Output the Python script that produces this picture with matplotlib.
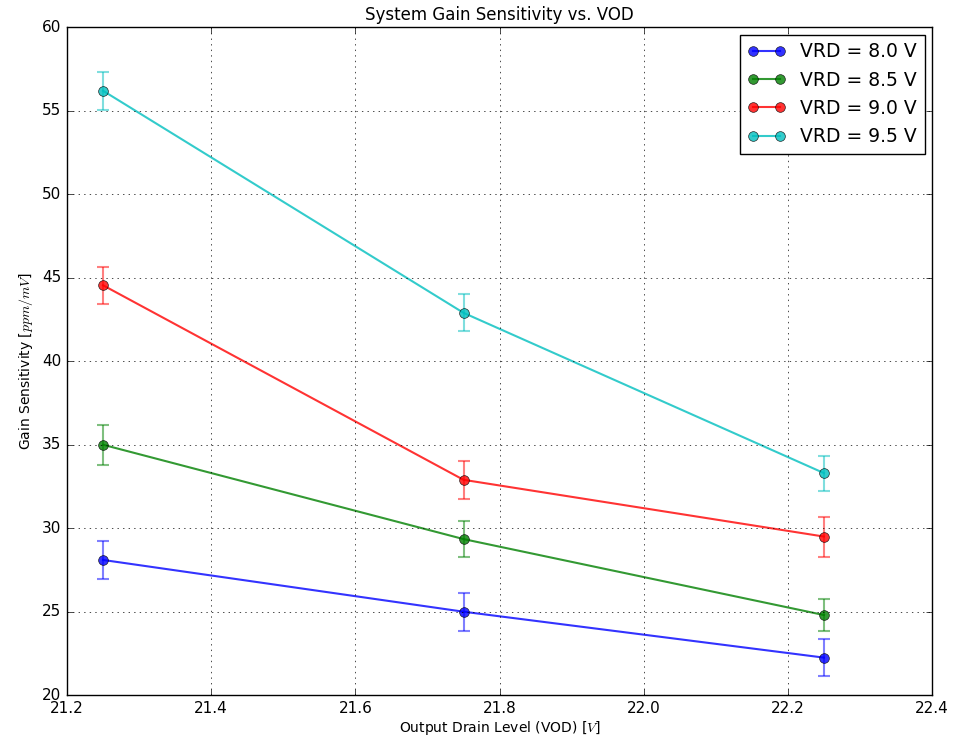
import matplotlib
matplotlib.use('Agg')
import matplotlib.pyplot as plt
import numpy as np

plt.style.use('classic')

vod = [21.25, 21.75, 22.25]
labels = ['VRD = 8.0 V', 'VRD = 8.5 V', 'VRD = 9.0 V', 'VRD = 9.5 V']
gain_80 = [28.1, 25.0, 22.25]
gain_85 = [35.0, 29.35, 24.8]
gain_90 = [44.55, 32.9, 29.5]
gain_95 = [56.2, 42.9, 33.3]
err_80 = [1.15, 1.15, 1.1]
err_85 = [1.2, 1.1, 0.95]
err_90 = [1.1, 1.15, 1.2]
err_95 = [1.15, 1.1, 1.05]
colors = ['b', 'g', 'r', 'c']

fig = plt.figure(figsize=(9.57, 7.38), dpi=100)
ax = fig.add_axes([0.070, 0.058, 0.904, 0.905])

for g, e, c, lab in zip([gain_80, gain_85, gain_90, gain_95],
                        [err_80, err_85, err_90, err_95], colors, labels):
    ax.errorbar(vod, g, yerr=e, fmt='none', ecolor=c, alpha=0.5,
                capsize=4, elinewidth=1.5, capthick=1.5)
    ax.plot(vod, g, '-o', color=c, alpha=0.8, markersize=7,
            markerfacecolor=c, markeredgecolor='k', markeredgewidth=0.5,
            label=lab, lw=1.5)

ax.set_xlim(21.2, 22.4)
ax.set_ylim(20, 60)
ax.grid(True)
ax.set_title('System Gain Sensitivity vs. VOD', fontsize=12)
ax.set_xlabel('Output Drain Level (VOD) [$V$]', fontsize=10, labelpad=2)
ax.set_ylabel('Gain Sensitivity [$ppm/mV$]', fontsize=10)
ax.tick_params(labelsize=11)
ax.legend(loc='upper right', fontsize=13.5, numpoints=2, borderaxespad=0.4)

fig.savefig('out.png', dpi=100)
